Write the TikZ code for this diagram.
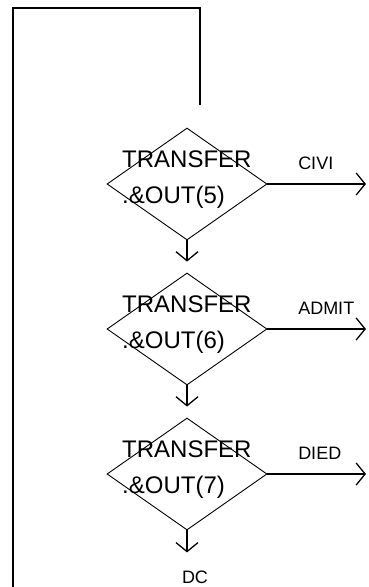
\documentclass[tikz,border=0pt]{standalone}
\usepackage{fontspec}
\setmainfont{Liberation Sans}
\usetikzlibrary{arrows.meta,shapes.geometric}
\begin{document}
\begin{tikzpicture}[x=1pt,y=-1pt,
  dia/.style={draw, shape=diamond, minimum width=160pt, minimum height=112pt, inner sep=0pt, line width=0.9pt},
  dtext/.style={font=\fontsize{24}{36}\selectfont, align=left, inner sep=0pt, anchor=base west},
  lab/.style={font=\fontsize{18}{20}\selectfont, inner sep=0pt},
  arr/.style={line width=1.6pt, -{Straight Barb[length=9pt,width=22pt,line width=1.3pt]}},
  frame/.style={line width=2.4pt},
]
\useasboundingbox (0,0) rectangle (368,587);
% diamonds
\node[dia] (d1) at (187,184) {};
\node[dia] (d2) at (187,329) {};
\node[dia] (d3) at (187,474) {};
% diamond texts (anchor is baseline of last line)
\node[dtext] (t1) at (122,203) {TRANSFER\\.\&OUT(5)};
\node[dtext] (t2) at (122,348) {TRANSFER\\.\&OUT(6)};
\node[dtext] (t3) at (122,493) {TRANSFER\\.\&OUT(7)};
% end label
\node[lab] (dc) at (195,577) {DC};
% frame loop
\coordinate (f0) at (13,587);
\coordinate (f1) at (200,8);
\coordinate (f2) at (200,105);
\draw[frame] (f0) |- (f1) -- (f2);
% right exits
\coordinate (rx) at (366,0);
\draw[arr] (d1.east) -- (d1.east -| rx) node[lab, pos=0, anchor=base west, xshift=30pt, yshift=15pt] {CIVI};
\draw[arr] (d2.east) -- (d2.east -| rx) node[lab, pos=0, anchor=base west, xshift=30pt, yshift=15pt] {ADMIT};
\draw[arr] (d3.east) -- (d3.east -| rx) node[lab, pos=0, anchor=base west, xshift=30pt, yshift=15pt] {DIED};
% down arrows
\draw[arr, shorten >=11pt] (d1.south) -- (d2.north);
\draw[arr, shorten >=11pt] (d2.south) -- (d3.north);
\draw[arr, shorten >=18pt] (d3.south) -- (d3.south |- dc.north);
\end{tikzpicture}
\end{document}
